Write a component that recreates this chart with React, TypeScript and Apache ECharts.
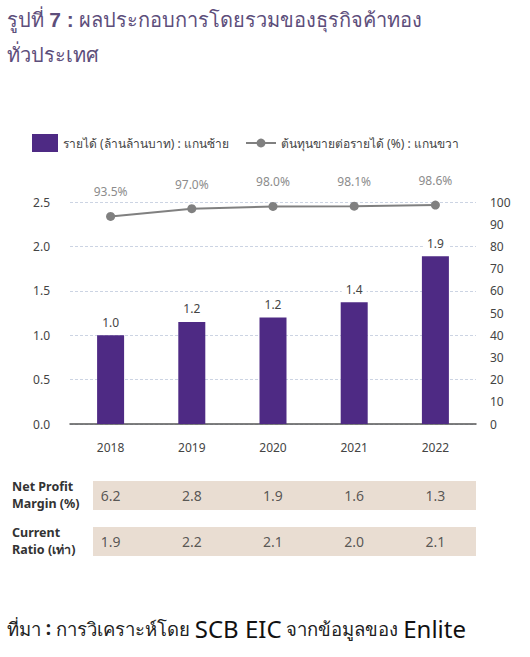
import React, { useEffect, useRef } from "react";
import * as echarts from "echarts";

const years = ["2018", "2019", "2020", "2021", "2022"];
const revenue = [1.0, 1.15, 1.2, 1.37, 1.89];
const revenueLabels = ["1.0", "1.2", "1.2", "1.4", "1.9"];
const costRatio = [93.5, 97.0, 98.0, 98.1, 98.6];
const netProfitMargin = [6.2, 2.8, 1.9, 1.6, 1.3];
const currentRatio = [1.9, 2.2, 2.1, 2.0, 2.1];
const tableRows = ["Net Profit\nMargin (%)", "Current\nRatio (เท่า)"];
const seriesNames = ["รายได้ (ล้านล้านบาท) : แกนซ้าย", "ต้นทุนขายต่อรายได้ (%) : แกนขวา"];

const FONT = "'Noto Sans', 'Open Sans', sans-serif";

export default function App() {
  const ref = useRef<HTMLDivElement>(null);
  useEffect(() => {
    document.body.style.margin = "0";
    const chart = echarts.init(ref.current!, null, { renderer: "svg" });
    const tableData: any[] = [];
    netProfitMargin.forEach((v, i) => tableData.push([years[i], tableRows[0], v]));
    currentRatio.forEach((v, i) => tableData.push([years[i], tableRows[1], v]));
    chart.setOption({
      animation: false,
      backgroundColor: "#ffffff",
      textStyle: { fontFamily: FONT },
      title: {
        left: 7,
        top: 2,
        padding: 0,
        text:
          "{a|รูปที่ }{b|7 :}{a| ผลประกอบการโดยรวมของธุรกิจค้าทอง}\n{a|ทั่วประเทศ}",
        textStyle: {
          fontWeight: "normal",
          rich: {
            a: { fontSize: 20, color: "#5d4e7b", fontWeight: "normal", fontFamily: FONT, lineHeight: 35 },
            b: { fontSize: 21, color: "#5d4e7b", fontWeight: "bold", fontFamily: "Arial, Liberation Sans, sans-serif", lineHeight: 35 },
          },
        },
      },
      legend: [
        {
          left: 27,
          top: 129,
          itemWidth: 26,
          itemHeight: 18,
          textStyle: { color: "#444", fontSize: 12, fontFamily: FONT },
          data: [{ name: seriesNames[0], icon: "rect" }],
        },
        {
          left: 240,
          top: 132,
          itemWidth: 30,
          itemHeight: 11,
          itemGap: 10,
          textStyle: { color: "#444", fontSize: 12, fontFamily: FONT },
          data: [{ name: seriesNames[1] }],
        },
      ],
      grid: [
        { left: 70, right: 54, top: 202, bottom: 233 },
        { left: 70, right: 54, top: 472, height: 92 },
      ],
      xAxis: [
        {
          type: "category",
          data: years,
          gridIndex: 0,
          axisTick: { show: false },
          axisLine: { lineStyle: { color: "#555", width: 1.5 } },
          axisLabel: { color: "#444", fontSize: 12, margin: 17 },
        },
        {
          type: "category",
          data: years,
          gridIndex: 1,
          show: false,
        },
      ],
      yAxis: [
        {
          type: "value",
          gridIndex: 0,
          min: 0,
          max: 2.5,
          interval: 0.5,
          axisLabel: { color: "#444", fontSize: 12, margin: 20, formatter: (v: number) => v.toFixed(1) },
          splitLine: { lineStyle: { color: "#ccd4e3", type: [3, 2], width: 1 } },
          axisLine: { show: false },
          axisTick: { show: false },
        },
        {
          type: "value",
          gridIndex: 0,
          min: 0,
          max: 100,
          interval: 10,
          position: "right",
          axisLabel: { color: "#444", fontSize: 12, margin: 14 },
          splitLine: { show: false },
          axisLine: { show: false },
          axisTick: { show: false },
        },
        {
          type: "category",
          gridIndex: 1,
          data: tableRows,
          inverse: true,
          axisLine: { show: false },
          axisTick: { show: false },
          splitLine: { show: false },
          axisLabel: {
            align: "left",
            margin: 58,
            color: "#333",
            fontSize: 12.5,
            fontWeight: "bold",
            lineHeight: 17,
          },
        },
      ],
      graphic: [
        { type: "rect", silent: true, z: -1, shape: { x: 93, y: 481, width: 383, height: 29 }, style: { fill: "#e9ddd2" } },
        { type: "rect", silent: true, z: -1, shape: { x: 93, y: 527, width: 383, height: 29 }, style: { fill: "#e9ddd2" } },
        {
          type: "text",
          left: 7,
          top: 616,
          style: {
            text: "{t|ที่มา }{c|:}{t| การวิเคราะห์โดย }{e|SCB EIC}{t| จากข้อมูลของ }{e|Enlite}",
            rich: {
              t: { fontSize: 18.5, fill: "#222", fontFamily: FONT },
              c: { fontSize: 19, fill: "#222", fontWeight: "bold", fontFamily: FONT },
              e: { fontSize: 24, fill: "#111", fontFamily: FONT },
            },
          },
        },
      ],
      series: [
        {
          name: seriesNames[0],
          type: "bar",
          xAxisIndex: 0,
          yAxisIndex: 0,
          data: revenue,
          barWidth: 27,
          itemStyle: { color: "#4e2a84" },
          label: {
            show: true,
            position: "top",
            distance: 6,
            color: "#444",
            fontSize: 12,
            backgroundColor: "#fff",
            padding: [1, 4],
            formatter: (p: any) => revenueLabels[p.dataIndex],
          },
        },
        {
          name: seriesNames[1],
          type: "line",
          xAxisIndex: 0,
          yAxisIndex: 1,
          data: costRatio,
          symbol: "circle",
          symbolSize: 9,
          itemStyle: { color: "#808080" },
          lineStyle: { color: "#808080", width: 2 },
          label: {
            show: true,
            position: "top",
            distance: 13,
            color: "#8c8c8c",
            fontSize: 12,
            backgroundColor: "#fff",
            padding: [1, 4],
            formatter: (p: any) => p.value.toFixed(1) + "%",
          },
        },
        {
          type: "scatter",
          xAxisIndex: 1,
          yAxisIndex: 2,
          data: tableData,
          symbolSize: 0,
          label: {
            show: true,
            position: "inside",
            color: "#333",
            fontSize: 14,
            formatter: (p: any) => p.value[2].toFixed(1),
          },
        },
      ],
    });
    return () => chart.dispose();
  }, []);
  return <div ref={ref} style={{ width: 530, height: 657 }} />;
}
